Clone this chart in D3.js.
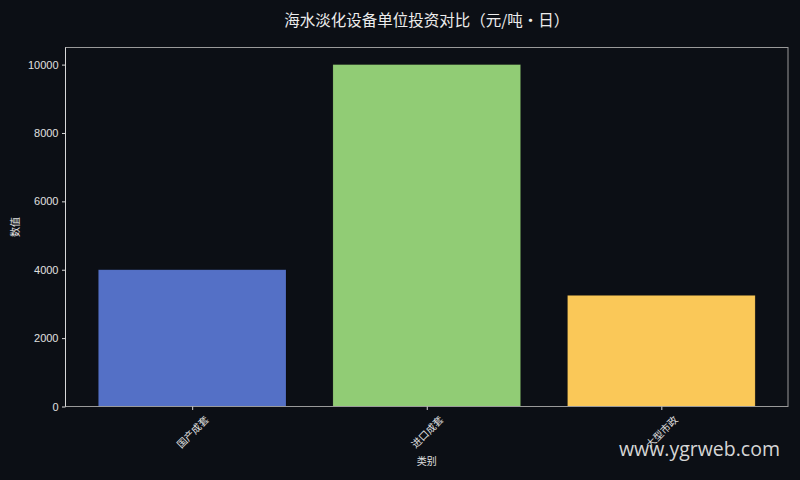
<!DOCTYPE html>
<html>
<head>
<meta charset="utf-8">
<script src="https://cdn.jsdelivr.net/npm/d3@7"></script>
<style>
  html, body { margin: 0; padding: 0; background: #0c0f15; }
  svg { display: block; }
</style>
</head>
<body>
<div id="chart"></div>
<script>
// chart data
const categories = ["国产成套", "进口成套", "大型市政"];
const values = [4000, 10000, 3250];
const barColors = ["#5470c6", "#91cc75", "#fac858"];
const yTicks = [0, 2000, 4000, 6000, 8000, 10000];

const W = 800, H = 480;
const plot = {left: 65.5, right: 788, top: 47.5, bottom: 406.5};
const cjk = "'Noto Sans CJK SC', 'Noto Sans', sans-serif";
const latin = "'Liberation Sans', Arial, sans-serif";

const svg = d3.select("#chart")
    .append("svg")
    .attr("width", W)
    .attr("height", H);

svg.append("rect").attr("width", W).attr("height", H).attr("fill", "#0c0f15");

// scales: bars 0.8 wide, 5% margin like matplotlib
const x = d3.scaleLinear()
    .domain([-0.54, categories.length - 1 + 0.54])
    .range([plot.left, plot.right]);
const y = d3.scaleLinear()
    .domain([0, d3.max(values) * 1.05])
    .range([plot.bottom, plot.top]);

// bars
svg.append("g")
    .selectAll("rect")
    .data(values)
    .join("rect")
    .attr("x", (d, i) => x(i - 0.4))
    .attr("y", d => y(d))
    .attr("width", x(0.4) - x(-0.4))
    .attr("height", d => y(0) - y(d))
    .attr("fill", (d, i) => barColors[i])
    .attr("stroke", "rgba(0,0,0,0.25)")
    .attr("stroke-width", 0.6);

// frame
svg.append("rect")
    .attr("x", plot.left).attr("y", plot.top)
    .attr("width", plot.right - plot.left)
    .attr("height", plot.bottom - plot.top)
    .attr("fill", "none")
    .attr("stroke", "#9a9a9a")
    .attr("stroke-width", 1);
svg.append("line")
    .attr("x1", plot.left).attr("x2", plot.left)
    .attr("y1", plot.top).attr("y2", plot.bottom)
    .attr("stroke", "#d8d8d8");

// y axis
const yAxis = svg.append("g")
    .attr("transform", `translate(${plot.left},0)`)
    .call(d3.axisLeft(y).tickValues(yTicks).tickSize(3.5).tickPadding(3.5).tickFormat(d3.format("d")));
yAxis.select(".domain").remove();
yAxis.selectAll("line").attr("stroke", "#d8d8d8");
yAxis.selectAll("text")
    .attr("fill", "#e0e0e0")
    .style("font-family", latin)
    .style("font-size", "11px");

// x axis ticks
const xAxis = svg.append("g")
    .attr("transform", `translate(0,${plot.bottom})`)
    .call(d3.axisBottom(x).tickValues(d3.range(categories.length)).tickSize(3.5).tickFormat(""));
xAxis.select(".domain").remove();
xAxis.selectAll("line").attr("stroke", "#d8d8d8");

// rotated category labels, centred under the ticks
svg.append("g")
    .selectAll("text")
    .data(categories)
    .join("text")
    .attr("transform", (d, i) => `translate(${x(i)},${plot.bottom + 25}) rotate(-45)`)
    .attr("text-anchor", "middle")
    .attr("dominant-baseline", "central")
    .attr("fill", "#e0e0e0")
    .style("font-family", cjk)
    .style("font-size", "10px")
    .text(d => d);

// axis titles
svg.append("text")
    .attr("x", (plot.left + plot.right) / 2)
    .attr("y", 465)
    .attr("text-anchor", "middle")
    .attr("fill", "#e0e0e0")
    .style("font-family", cjk)
    .style("font-size", "10px")
    .text("类别");

svg.append("text")
    .attr("transform", `translate(19,${(plot.top + plot.bottom) / 2}) rotate(-90)`)
    .attr("text-anchor", "middle")
    .attr("fill", "#e0e0e0")
    .style("font-family", cjk)
    .style("font-size", "10px")
    .text("数值");

// title
svg.append("text")
    .attr("x", (plot.left + plot.right) / 2)
    .attr("y", 26)
    .attr("text-anchor", "middle")
    .attr("fill", "#ececec")
    .style("font-family", cjk)
    .style("font-size", "15.5px")
    .text("海水淡化设备单位投资对比（元/吨·日）");

// watermark
svg.append("text")
    .attr("x", 780)
    .attr("y", 456)
    .attr("text-anchor", "end")
    .attr("fill", "#d6d6d6")
    .style("font-family", "'Open Sans', 'Noto Sans', sans-serif")
    .style("font-size", "19.5px")
    .text("www.ygrweb.com");
</script>
</body>
</html>
